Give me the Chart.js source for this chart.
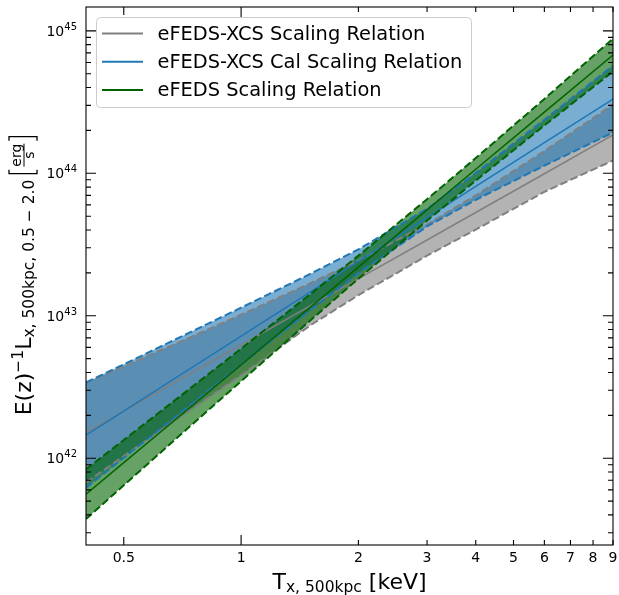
<!DOCTYPE html>
<html lang="en">
<head>
<meta charset="UTF-8">
<title>L-T scaling relations</title>
<style>
  html, body { margin: 0; padding: 0; background: #ffffff; }
  #wrap { width: 619px; height: 595px; }
</style>
<script src="https://cdn.jsdelivr.net/npm/chart.js@4.4.0/dist/chart.umd.min.js"></script>
</head>
<body>
<div id="wrap"><canvas id="lt" width="619" height="595"></canvas></div>
<script>
const temps = [0.4, 0.5, 0.7, 1, 1.5, 2, 3, 4, 6, 9];

// eFEDS-XCS scaling relation (grey)
const xcsMid   = [1.514e42, 2.138e42, 3.589e42, 6.237e42, 1.167e43, 1.820e43, 3.404e43, 5.309e43, 9.93e43, 1.862e44];
const xcsUpper = [3.388e42, 4.416e42, 6.592e42, 1.016e43, 1.683e43, 2.449e43, 4.385e43, 6.998e43, 1.432e44, 3.034e44];
const xcsLower = [6.761e41, 1.035e42, 1.954e42, 3.828e42, 8.51e42, 1.396e43, 2.642e43, 4.027e43, 7.41e43, 1.23e44];

// eFEDS-XCS Cal scaling relation (blue)
const calMid   = [1.452e42, 2.143e42, 3.855e42, 7.194e42, 1.459e43, 2.410e43, 4.887e43, 8.091e43, 1.641e44, 3.319e44];
const calUpper = [3.404e42, 4.560e42, 7.112e42, 1.140e43, 1.959e43, 2.924e43, 5.636e43, 1.005e44, 2.377e44, 5.702e44];
const calLower = [6.194e41, 1.007e42, 2.089e42, 4.539e42, 1.086e43, 1.991e43, 4.236e43, 6.516e43, 1.132e44, 1.932e44];

// eFEDS scaling relation (green)
const efedsMid   = [5.598e41, 9.311e41, 2.004e42, 4.519e42, 1.138e43, 2.193e43, 5.534e43, 1.067e44, 2.685e44, 6.761e44];
const efedsUpper = [8.375e41, 1.343e42, 2.742e42, 5.875e42, 1.406e43, 2.642e43, 6.577e43, 1.279e44, 3.327e44, 8.810e44];
const efedsLower = [3.741e41, 6.457e41, 1.466e42, 3.475e42, 9.204e42, 1.820e43, 4.656e43, 8.892e43, 2.168e44, 5.188e44];

const legendLabels = ['eFEDS-XCS Scaling Relation', 'eFEDS-XCS Cal Scaling Relation', 'eFEDS Scaling Relation'];

// axis ticks
const xTicks = [0.5, 1, 2, 3, 4, 5, 6, 7, 8, 9];
const xTickLabels = ['0.5', '1', '2', '3', '4', '5', '6', '7', '8', '9'];
const yDecades = [42, 43, 44, 45];
const yMinorSteps = [2, 3, 4, 5, 6, 7, 8, 9];

const GREY = '#808080', BLUE = '#1f77b4', GREEN = '#006400';
const FONT = '"DejaVu Sans", "Liberation Sans", sans-serif';

function pts(arr) {
  return temps.map((t, i) => ({ x: t, y: arr[i] }));
}

function fillPair(upper, lower, rgba, order) {
  const clear = 'rgba(0,0,0,0)';
  return [
    { data: pts(upper), borderColor: clear, borderWidth: 0, backgroundColor: rgba, fill: '+1', order: order },
    { data: pts(lower), borderColor: clear, borderWidth: 0, fill: false, order: order }
  ];
}

function lineSet(mid, upper, lower, color, order) {
  const dash = [7.7, 3.3];
  return [
    { data: pts(mid), borderColor: color, borderWidth: 1.5, fill: false, order: order },
    { data: pts(upper), borderColor: color, borderWidth: 2, borderDash: dash, fill: false, order: order },
    { data: pts(lower), borderColor: color, borderWidth: 2, borderDash: dash, fill: false, order: order }
  ];
}

const datasets = [].concat(
  fillPair(xcsUpper, xcsLower, 'rgba(128,128,128,0.6)', 30),
  fillPair(calUpper, calLower, 'rgba(31,119,180,0.6)', 29),
  fillPair(efedsUpper, efedsLower, 'rgba(0,100,0,0.6)', 28),
  lineSet(xcsMid, xcsUpper, xcsLower, GREY, 3),
  lineSet(calMid, calUpper, calLower, BLUE, 2),
  lineSet(efedsMid, efedsUpper, efedsLower, GREEN, 1)
);

// draws a run of text pieces (text, font, baseline shift) starting at x
function drawRun(ctx, parts, x) {
  parts.forEach(p => {
    ctx.font = p.f;
    ctx.fillText(p.t, x, p.dy);
    x += ctx.measureText(p.t).width;
  });
  return x;
}
function runWidth(ctx, parts) {
  let w = 0;
  parts.forEach(p => { ctx.font = p.f; w += ctx.measureText(p.t).width; });
  return w;
}

const axesPlugin = {
  id: 'axesFrame',
  afterDatasetsDraw(chart) {
    const ctx = chart.ctx, a = chart.chartArea;
    const xs = chart.scales.x, ys = chart.scales.y;
    ctx.save();
    ctx.strokeStyle = '#000';
    ctx.fillStyle = '#000';

    // ticks pointing inwards on all four sides
    ctx.lineWidth = 1.1;
    xTicks.forEach(v => {
      const px = xs.getPixelForValue(v);
      const len = v === 1 ? 10 : (v === 0.5 ? 8 : 5);
      ctx.beginPath();
      ctx.moveTo(px, a.bottom); ctx.lineTo(px, a.bottom - len);
      ctx.moveTo(px, a.top); ctx.lineTo(px, a.top + len);
      ctx.stroke();
    });
    yDecades.forEach(n => {
      const py = ys.getPixelForValue(Math.pow(10, n));
      ctx.beginPath();
      ctx.moveTo(a.left, py); ctx.lineTo(a.left + 10, py);
      ctx.moveTo(a.right, py); ctx.lineTo(a.right - 10, py);
      ctx.stroke();
    });
    [41, 42, 43, 44].forEach(n => {
      yMinorSteps.forEach(m => {
        const v = m * Math.pow(10, n);
        if (v < ys.min || v > ys.max) return;
        const py = ys.getPixelForValue(v);
        ctx.beginPath();
        ctx.moveTo(a.left, py); ctx.lineTo(a.left + 5, py);
        ctx.moveTo(a.right, py); ctx.lineTo(a.right - 5, py);
        ctx.stroke();
      });
    });

    // frame
    ctx.lineWidth = 1.1;
    ctx.strokeRect(a.left, a.top, a.right - a.left, a.bottom - a.top);

    // x tick labels
    ctx.font = '14px ' + FONT;
    ctx.textAlign = 'center';
    ctx.textBaseline = 'alphabetic';
    xTicks.forEach((v, i) => {
      ctx.fillText(xTickLabels[i], xs.getPixelForValue(v), a.bottom + 17);
    });

    // y tick labels: 10^n
    ctx.textAlign = 'left';
    yDecades.forEach(n => {
      const py = ys.getPixelForValue(Math.pow(10, n));
      const parts = [
        { t: '10', f: '14px ' + FONT, dy: 0 },
        { t: String(n), f: '10px ' + FONT, dy: -6 }
      ];
      const w = runWidth(ctx, parts);
      ctx.save();
      ctx.translate(a.left - 9 - w, py + 5);
      drawRun(ctx, parts, 0);
      ctx.restore();
    });

    // x title
    const big = '22px ' + FONT, small = '15.5px ' + FONT;
    const xParts = [
      { t: 'T', f: big, dy: 0 },
      { t: 'x, 500kpc', f: small, dy: 3.5 },
      { t: ' [keV]', f: big, dy: 0 }
    ];
    const xw = runWidth(ctx, xParts);
    ctx.save();
    ctx.translate((a.left + a.right) / 2 - xw / 2, 588.5);
    drawRun(ctx, xParts, 0);
    ctx.restore();

    // y title, rotated
    const yParts = [
      { t: 'E(z)', f: big, dy: 0 },
      { t: '\u22121', f: small, dy: -8 },
      { t: 'L', f: big, dy: 0 },
      { t: 'x, 500kpc, 0.5 \u2212 2.0', f: small, dy: 3 }
    ];
    const fracFont = '14px ' + FONT;
    ctx.font = fracFont;
    const fracW = ctx.measureText('erg').width;
    const gap = 6, brW = 4, brPad = 3;
    const fracBlock = brW + brPad + fracW + brPad + brW;
    const yw = runWidth(ctx, yParts) + gap + fracBlock;
    ctx.save();
    ctx.translate(30.5, (a.top + a.bottom) / 2);
    ctx.rotate(-Math.PI / 2);
    let u = drawRun(ctx, yParts, -yw / 2) + gap;
    ctx.lineWidth = 1.3;
    ctx.beginPath();
    ctx.moveTo(u + brW, -21.5); ctx.lineTo(u, -21.5); ctx.lineTo(u, 6.5); ctx.lineTo(u + brW, 6.5);
    const r = u + fracBlock;
    ctx.moveTo(r - brW, -21.5); ctx.lineTo(r, -21.5); ctx.lineTo(r, 6.5); ctx.lineTo(r - brW, 6.5);
    ctx.stroke();
    const fx = u + brW + brPad;
    ctx.lineWidth = 1;
    ctx.beginPath();
    ctx.moveTo(fx, -6.5); ctx.lineTo(fx + fracW, -6.5);
    ctx.stroke();
    ctx.font = fracFont;
    ctx.textAlign = 'center';
    ctx.fillText('erg', fx + fracW / 2, -10);
    ctx.fillText('s', fx + fracW / 2, 3.5);
    ctx.restore();

    ctx.restore();
  },
  afterDraw(chart) {
    // legend box inside the axes, upper left
    const ctx = chart.ctx;
    ctx.save();
    ctx.beginPath();
    ctx.roundRect(96.5, 17.5, 375, 90, 4);
    ctx.fillStyle = 'rgba(255,255,255,0.8)';
    ctx.fill();
    ctx.strokeStyle = '#cccccc';
    ctx.lineWidth = 1;
    ctx.stroke();
    const colors = [GREY, BLUE, GREEN];
    ctx.font = '19.4px ' + FONT;
    ctx.textBaseline = 'middle';
    ctx.textAlign = 'left';
    legendLabels.forEach((lab, i) => {
      const y = 33.5 + i * 28.3;
      ctx.strokeStyle = colors[i];
      ctx.lineWidth = 2;
      ctx.beginPath();
      ctx.moveTo(102, y); ctx.lineTo(143, y);
      ctx.stroke();
      ctx.fillStyle = '#000';
      ctx.fillText(lab, 157.5, y + 1);
    });
    ctx.restore();
  }
};

new Chart(document.getElementById('lt'), {
  type: 'line',
  data: { datasets: datasets },
  options: {
    responsive: false,
    animation: false,
    layout: { padding: { left: 86, right: 6, top: 7, bottom: 50 } },
    scales: {
      x: { type: 'logarithmic', min: 0.4, max: 9, display: false },
      y: { type: 'logarithmic', min: 2.46e41, max: 1.47e45, display: false }
    },
    elements: { point: { radius: 0 }, line: { tension: 0 } },
    plugins: { legend: { display: false }, tooltip: { enabled: false } }
  },
  plugins: [axesPlugin]
});
</script>
</body>
</html>
